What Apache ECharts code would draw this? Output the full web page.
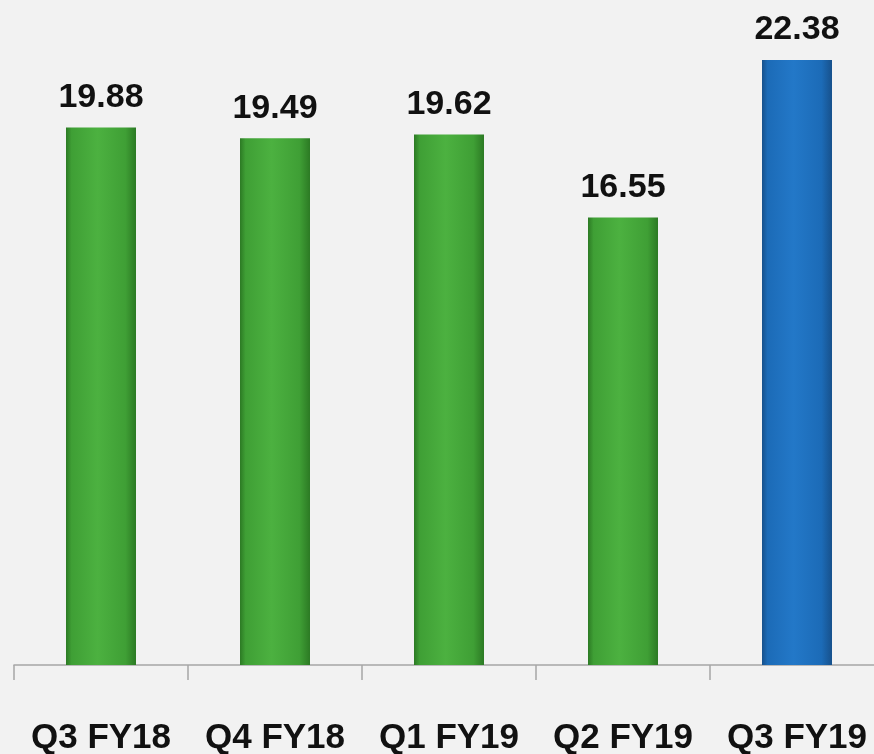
<!DOCTYPE html>
<html>
<head>
<meta charset="utf-8">
<script src="https://cdn.jsdelivr.net/npm/echarts@6/dist/echarts.min.js"></script>
<style>
html,body{margin:0;padding:0;background:#f2f2f2;}
#chart{width:874px;height:754px;}
</style>
</head>
<body>
<div id="chart"></div>
<script>
var categories = ['Q3 FY18', 'Q4 FY18', 'Q1 FY19', 'Q2 FY19', 'Q3 FY19'];
var values = [19.88, 19.49, 19.62, 16.55, 22.38];
var highlightIndex = 4;

function grad(dark, mid, light) {
  return new echarts.graphic.LinearGradient(0, 0, 1, 0, [
    {offset: 0, color: dark},
    {offset: 0.08, color: mid},
    {offset: 0.45, color: light},
    {offset: 0.85, color: mid},
    {offset: 1, color: dark}
  ]);
}
var green = grad('#2c7a24', '#3f9f35', '#4cb140');
var blue = grad('#17518c', '#1c6bb7', '#2378c8');

var chart = echarts.init(document.getElementById('chart'));
chart.setOption({
  backgroundColor: '#f2f2f2',
  animation: false,
  grid: {left: 14, width: 870, top: 0, bottom: 89, containLabel: false, outerBoundsMode: 'none'},
  xAxis: {
    type: 'category',
    data: categories,
    axisLine: {lineStyle: {color: '#a6a6a6', width: 1.5}},
    axisTick: {show: true, interval: 0, length: 15, lineStyle: {color: '#a6a6a6', width: 1.5}},
    axisLabel: {
      show: true, interval: 0, hideOverlap: false,
      margin: 56, fontFamily: 'Liberation Sans', fontWeight: 'bold', fontSize: 35, color: '#111'
    }
  },
  yAxis: {
    type: 'value', min: 0, max: 24.6, show: false, splitLine: {show: false}
  },
  series: [{
    type: 'bar',
    barWidth: 70,
    data: values.map(function (v, i) {
      return {value: v, itemStyle: {color: i === highlightIndex ? blue : green}};
    }),
    label: {
      show: true, position: 'top', distance: 13,
      fontFamily: 'Liberation Sans', fontWeight: 'bold', fontSize: 34, color: '#111',
      formatter: function (p) { return p.value.toFixed(2); }
    }
  }]
});
</script>
</body>
</html>
